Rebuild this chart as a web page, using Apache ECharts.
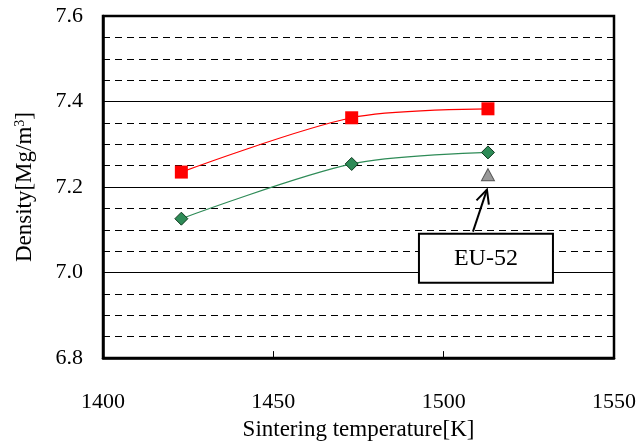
<!DOCTYPE html>
<html>
<head>
<meta charset="utf-8">
<script src="https://cdn.jsdelivr.net/npm/echarts@6/dist/echarts.min.js"></script>
<style>html,body{margin:0;padding:0;background:#fff;}#c{width:639px;height:446px;}</style>
</head>
<body>
<div id="c"></div>
<script>
var temps = [1423, 1473, 1513];
var redDensity = [7.235, 7.362, 7.383];
var greenDensity = [7.126, 7.254, 7.281];
var eu52Temp = [1513];
var eu52Density = [7.229];
var xTicks = [1400, 1450, 1500, 1550];
var yTicks = [6.8, 7.0, 7.2, 7.4, 7.6];
var annotationText = 'EU-52';

function pairs(xs, ys) { return xs.map(function (x, i) { return [x, ys[i]]; }); }

var FONT = '"Liberation Serif", "Times New Roman", serif';
var chart = echarts.init(document.getElementById('c'), null, { renderer: 'canvas' });
var option = {
  animation: false,
  backgroundColor: '#fff',
  grid: { left: 103, right: 25, top: 16, bottom: 79, show: true, borderColor: '#000', borderWidth: 2.5, backgroundColor: 'transparent', containLabel: false },
  xAxis: {
    type: 'value', min: xTicks[0], max: xTicks[xTicks.length - 1], interval: 50,
    name: 'Sintering temperature[K]', nameLocation: 'middle', nameGap: 59,
    nameTextStyle: { fontFamily: FONT, fontSize: 23, color: '#000' },
    axisLine: { show: true, lineStyle: { color: '#000', width: 2.5 } },
    axisTick: { show: true, inside: true, length: 7, lineStyle: { color: '#000', width: 1 } },
    axisLabel: { fontFamily: FONT, fontSize: 22, color: '#000', margin: 33, formatter: function (v) { return String(v); } },
    splitLine: { show: false }
  },
  yAxis: {
    type: 'value', min: yTicks[0], max: yTicks[yTicks.length - 1], interval: 0.2,
    name: 'Density[Mg/m{sup|3}]', nameLocation: 'middle', nameGap: 66, nameRotate: 90,
    nameTextStyle: { fontFamily: FONT, fontSize: 23, color: '#000',
      rich: { sup: { fontFamily: FONT, fontSize: 14, color: '#000', verticalAlign: 'top', padding: [0, 0, 10, 0] } } },
    axisLine: { show: true, lineStyle: { color: '#000', width: 2.5 } },
    axisTick: { show: false },
    axisLabel: { fontFamily: FONT, fontSize: 22, color: '#000', margin: 20, padding: [8, 0, 0, 0], formatter: function (v) { return v.toFixed(1); } },
    splitLine: { show: true, lineStyle: { color: '#000', width: 1 } },
    minorTick: { show: false, splitNumber: 4 },
    minorSplitLine: { show: true, lineStyle: { color: '#000', width: 1, type: [7, 5] } }
  },
  series: [
    {
      type: 'line', data: pairs(temps, redDensity), smooth: 0.3, symbol: 'rect', symbolSize: 13,
      lineStyle: { color: '#ff0000', width: 1.2 },
      itemStyle: { color: '#ff0000', borderColor: '#ff0000', borderWidth: 0 }, z: 3
    },
    {
      type: 'line', data: pairs(temps, greenDensity), smooth: 0.3, symbol: 'diamond', symbolSize: [13, 13],
      lineStyle: { color: '#2e8b57', width: 1.2 },
      itemStyle: { color: '#2e8b57', borderColor: '#0f3a1f', borderWidth: 1 }, z: 3
    },
    {
      type: 'scatter', data: pairs(eu52Temp, eu52Density), symbol: 'triangle', symbolSize: [13, 12],
      itemStyle: { color: '#808080', borderColor: '#333', borderWidth: 1 }, z: 3
    }
  ]
};
chart.setOption(option);

// annotation box + arrow, positioned relative to the EU-52 point
var p = chart.convertToPixel({ gridIndex: 0 }, [eu52Temp[0], eu52Density[0]]);
var tipX = p[0] - 1, tipY = p[1] + 15;
var baseX = p[0] - 15, baseY = p[1] + 57;
var ang = Math.atan2(tipY - baseY, tipX - baseX);
var hl = 15, ha = 0.45;
var h1 = [tipX - hl * Math.cos(ang - ha), tipY - hl * Math.sin(ang - ha)];
var h2 = [tipX - hl * Math.cos(ang + ha), tipY - hl * Math.sin(ang + ha)];
chart.setOption({
  graphic: [
    { type: 'line', shape: { x1: baseX, y1: baseY, x2: tipX, y2: tipY }, style: { stroke: '#000', lineWidth: 2 }, z: 10 },
    { type: 'polyline', shape: { points: [h1, [tipX, tipY], h2] }, style: { stroke: '#000', lineWidth: 2, fill: null }, z: 10 },
    { type: 'rect', shape: { x: p[0] - 69, y: baseY + 2, width: 134, height: 49 }, style: { fill: '#fff', stroke: '#000', lineWidth: 2 }, z: 10 },
    { type: 'text', x: p[0] - 2, y: baseY + 27, style: { text: annotationText, fontFamily: FONT, fontSize: 24, fill: '#000', align: 'center', verticalAlign: 'middle' }, z: 11 }
  ]
});
</script>
</body>
</html>
